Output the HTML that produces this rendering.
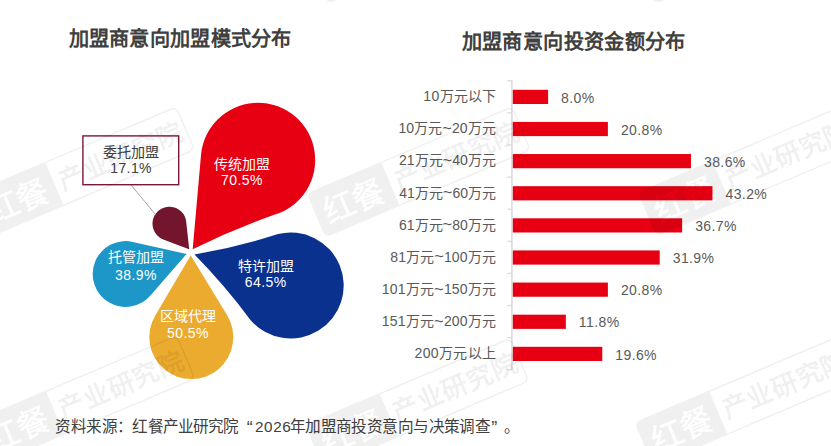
<!DOCTYPE html>
<html lang="zh-CN"><head><meta charset="utf-8"><title>chart</title>
<style>html,body{margin:0;padding:0;background:#fff;}body{width:831px;height:446px;overflow:hidden;font-family:"Liberation Sans", sans-serif;}svg{display:block;}text{font-family:"Liberation Sans", sans-serif;}</style>
</head><body>
<svg width="831" height="446" viewBox="0 0 831 446">
<rect width="831" height="446" fill="#fff"/>
<text x="68.63" y="46" font-size="20.2" font-weight="bold" fill="#404040" textLength="222.75" lengthAdjust="spacing">加盟商意向加盟模式分布</text>
<text x="461.63" y="48.5" font-size="20.2" font-weight="bold" fill="#404040" textLength="223.75" lengthAdjust="spacing">加盟商意向投资金额分布</text>
<path d="M192.70 249.20 Q196.86 202.08 201.02 154.97 A57.20 57.20 0 1 1 280.01 212.79 Q235.20 228.23 192.70 249.20Z" fill="#e60012"/>
<path d="M194.50 254.60 Q236.98 247.23 278.03 234.04 A53.00 53.00 0 1 1 250.43 319.96 Q224.75 285.33 194.50 254.60Z" fill="#0b318f"/>
<path d="M190.70 255.60 Q208.92 285.40 227.13 315.19 A42.00 42.00 0 1 1 155.15 315.72 Q172.92 285.66 190.70 255.60Z" fill="#eaab2e"/>
<path d="M186.60 253.90 Q168.52 274.73 150.45 295.56 A32.90 32.90 0 1 1 132.76 241.89 Q159.68 247.89 186.60 253.90Z" fill="#1d96c8"/>
<path d="M189.20 249.30 Q176.27 244.34 163.35 239.38 A16.90 16.90 0 1 1 186.20 221.77 Q187.70 235.53 189.20 249.30Z" fill="#72152d"/>
<text x="241.75" y="168.5" text-anchor="middle" font-size="14" fill="#fff">传统加盟</text>
<text x="241.95" y="185" text-anchor="middle" font-size="14" letter-spacing="0.4" fill="#fff">70.5%</text>
<text x="265.5" y="270.5" text-anchor="middle" font-size="14" fill="#fff">特许加盟</text>
<text x="265.7" y="287.4" text-anchor="middle" font-size="14" letter-spacing="0.4" fill="#fff">64.5%</text>
<text x="135.75" y="262" text-anchor="middle" font-size="14" fill="#fff">托管加盟</text>
<text x="135.95" y="280" text-anchor="middle" font-size="14" letter-spacing="0.4" fill="#fff">38.9%</text>
<text x="187.75" y="321" text-anchor="middle" font-size="14" fill="#fff">区域代理</text>
<text x="187.95" y="337.5" text-anchor="middle" font-size="14" letter-spacing="0.4" fill="#fff">50.5%</text>
<line x1="131" y1="185" x2="155.5" y2="214.5" stroke="#a6a6a6" stroke-width="1"/>
<rect x="82.9" y="135.9" width="95.8" height="48.8" fill="#fff" stroke="#7b1734" stroke-width="1.4"/>
<text x="130.9" y="156.5" text-anchor="middle" font-size="14" fill="#404040">委托加盟</text>
<text x="131.1" y="173.3" text-anchor="middle" font-size="14" letter-spacing="0.4" fill="#404040">17.1%</text>
<line x1="511.9" y1="80.3" x2="511.9" y2="370.20000000000005" stroke="#d9d9d9" stroke-width="1.5"/>
<line x1="507.3" y1="80.80" x2="511.9" y2="80.80" stroke="#d9d9d9" stroke-width="1.2"/>
<line x1="507.3" y1="112.90" x2="511.9" y2="112.90" stroke="#d9d9d9" stroke-width="1.2"/>
<line x1="507.3" y1="145.00" x2="511.9" y2="145.00" stroke="#d9d9d9" stroke-width="1.2"/>
<line x1="507.3" y1="177.10" x2="511.9" y2="177.10" stroke="#d9d9d9" stroke-width="1.2"/>
<line x1="507.3" y1="209.20" x2="511.9" y2="209.20" stroke="#d9d9d9" stroke-width="1.2"/>
<line x1="507.3" y1="241.30" x2="511.9" y2="241.30" stroke="#d9d9d9" stroke-width="1.2"/>
<line x1="507.3" y1="273.40" x2="511.9" y2="273.40" stroke="#d9d9d9" stroke-width="1.2"/>
<line x1="507.3" y1="305.50" x2="511.9" y2="305.50" stroke="#d9d9d9" stroke-width="1.2"/>
<line x1="507.3" y1="337.60" x2="511.9" y2="337.60" stroke="#d9d9d9" stroke-width="1.2"/>
<line x1="507.3" y1="369.70" x2="511.9" y2="369.70" stroke="#d9d9d9" stroke-width="1.2"/>
<rect x="512.8" y="89.80" width="35.30" height="14.2" fill="#e60012"/>
<text x="423.32" y="101.2" font-size="14" fill="#595959" textLength="73.07" lengthAdjust="spacing">10万元以下</text>
<text x="561.10" y="102.50" font-size="14" letter-spacing="0.4" fill="#595959">8.0%</text>
<rect x="512.8" y="121.92" width="95.08" height="14.2" fill="#e60012"/>
<text x="398.52" y="133.32" font-size="14" fill="#595959" textLength="97.11" lengthAdjust="spacing">10万元<tspan dy="0.6" font-size="16.5">~</tspan><tspan dy="-0.6">20万元</tspan></text>
<text x="620.88" y="134.62" font-size="14" letter-spacing="0.4" fill="#595959">20.8%</text>
<rect x="512.8" y="154.05" width="178.20" height="14.2" fill="#e60012"/>
<text x="398.99" y="165.45" font-size="14" fill="#595959" textLength="96.69" lengthAdjust="spacing">21万元<tspan dy="0.6" font-size="16.5">~</tspan><tspan dy="-0.6">40万元</tspan></text>
<text x="704.00" y="166.75" font-size="14" letter-spacing="0.4" fill="#595959">38.6%</text>
<rect x="512.8" y="186.18" width="199.68" height="14.2" fill="#e60012"/>
<text x="399.32" y="197.58" font-size="14" fill="#595959" textLength="96.71" lengthAdjust="spacing">41万元<tspan dy="0.6" font-size="16.5">~</tspan><tspan dy="-0.6">60万元</tspan></text>
<text x="725.48" y="198.88" font-size="14" letter-spacing="0.4" fill="#595959">43.2%</text>
<rect x="512.8" y="218.30" width="169.33" height="14.2" fill="#e60012"/>
<text x="398.95" y="229.7" font-size="14" fill="#595959" textLength="96.79" lengthAdjust="spacing">61万元<tspan dy="0.6" font-size="16.5">~</tspan><tspan dy="-0.6">80万元</tspan></text>
<text x="695.13" y="231.00" font-size="14" letter-spacing="0.4" fill="#595959">36.7%</text>
<rect x="512.8" y="250.43" width="146.91" height="14.2" fill="#e60012"/>
<text x="390.34" y="261.82" font-size="14" fill="#595959" textLength="105.34" lengthAdjust="spacing">81万元<tspan dy="0.6" font-size="16.5">~</tspan><tspan dy="-0.6">100万元</tspan></text>
<text x="672.71" y="263.12" font-size="14" letter-spacing="0.4" fill="#595959">31.9%</text>
<rect x="512.8" y="282.55" width="95.08" height="14.2" fill="#e60012"/>
<text x="381.72" y="293.95" font-size="14" fill="#595959" textLength="114.31" lengthAdjust="spacing">101万元<tspan dy="0.6" font-size="16.5">~</tspan><tspan dy="-0.6">150万元</tspan></text>
<text x="620.88" y="295.25" font-size="14" letter-spacing="0.4" fill="#595959">20.8%</text>
<rect x="512.8" y="314.68" width="53.05" height="14.2" fill="#e60012"/>
<text x="381.72" y="326.07" font-size="14" fill="#595959" textLength="114.31" lengthAdjust="spacing">151万元<tspan dy="0.6" font-size="16.5">~</tspan><tspan dy="-0.6">200万元</tspan></text>
<text x="578.85" y="327.38" font-size="14" letter-spacing="0.4" fill="#595959">11.8%</text>
<rect x="512.8" y="346.80" width="89.47" height="14.2" fill="#e60012"/>
<text x="414.49" y="358.2" font-size="14" fill="#595959" textLength="81.76" lengthAdjust="spacing">200万元以上</text>
<text x="615.27" y="359.50" font-size="14" letter-spacing="0.4" fill="#595959">19.6%</text>
<text x="55.17" y="432" font-size="15.6" fill="#404040" textLength="62.58" lengthAdjust="spacing">资料来源</text>
<text x="117.2" y="432" font-size="15.6" fill="#404040">：</text>
<text x="132.32" y="432" font-size="15.6" fill="#404040" textLength="107.08" lengthAdjust="spacing">红餐产业研究院</text>
<text x="246.74" y="433.5" font-size="18" fill="#404040" textLength="12.24" lengthAdjust="spacing">“</text>
<text x="255.04" y="432" font-size="15.3" fill="#404040" textLength="35.65" lengthAdjust="spacing">2026</text>
<text x="289.77" y="432" font-size="15.6" fill="#404040" textLength="201.12" lengthAdjust="spacing">年加盟商投资意向与决策调查</text>
<text x="491.28" y="433.5" font-size="18" fill="#404040" textLength="10.68" lengthAdjust="spacing">”</text>
<text x="503.8" y="432" font-size="15.6" fill="#404040">。</text>
<defs><mask id="wmm" maskUnits="userSpaceOnUse" x="-84" y="-2" width="88" height="55"><rect x="-84" y="-2" width="88" height="55" fill="#fff"/><text x="-40.5" y="37" text-anchor="middle" font-size="32" fill="#000" stroke="#000" stroke-width="0.5">红餐</text></mask></defs>
<g transform="translate(45.2 161.7) rotate(-23)"><path d="M-75 0H0V48H-75A6 6 0 0 1 -81 42V6A6 6 0 0 1 -75 0Z" fill="#000" fill-opacity="0.06" mask="url(#wmm)"/><path d="M0 0.75H136A6 6 0 0 1 142 6.75V41.25A6 6 0 0 1 136 47.25H0" fill="none" stroke="#000" stroke-opacity="0.06" stroke-width="1.5"/><text x="5" y="33.5" font-size="26" textLength="133" fill="#000" stroke="#000" opacity="0.06" stroke-width="0.7">产业研究院</text></g>
<g transform="translate(381.1 161.7) rotate(-23)"><path d="M-75 0H0V48H-75A6 6 0 0 1 -81 42V6A6 6 0 0 1 -75 0Z" fill="#000" fill-opacity="0.06" mask="url(#wmm)"/><path d="M0 0.75H136A6 6 0 0 1 142 6.75V41.25A6 6 0 0 1 136 47.25H0" fill="none" stroke="#000" stroke-opacity="0.06" stroke-width="1.5"/><text x="5" y="33.5" font-size="26" textLength="133" fill="#000" stroke="#000" opacity="0.06" stroke-width="0.7">产业研究院</text></g>
<g transform="translate(712.3 160.5) rotate(-23)"><path d="M-75 0H0V48H-75A6 6 0 0 1 -81 42V6A6 6 0 0 1 -75 0Z" fill="#000" fill-opacity="0.06" mask="url(#wmm)"/><path d="M0 0.75H136A6 6 0 0 1 142 6.75V41.25A6 6 0 0 1 136 47.25H0" fill="none" stroke="#000" stroke-opacity="0.06" stroke-width="1.5"/><text x="5" y="33.5" font-size="26" textLength="133" fill="#000" stroke="#000" opacity="0.06" stroke-width="0.7">产业研究院</text></g>
<g transform="translate(45.7 390.6) rotate(-23)"><path d="M-75 0H0V48H-75A6 6 0 0 1 -81 42V6A6 6 0 0 1 -75 0Z" fill="#000" fill-opacity="0.06" mask="url(#wmm)"/><path d="M0 0.75H136A6 6 0 0 1 142 6.75V41.25A6 6 0 0 1 136 47.25H0" fill="none" stroke="#000" stroke-opacity="0.06" stroke-width="1.5"/><text x="5" y="33.5" font-size="26" textLength="133" fill="#000" stroke="#000" opacity="0.06" stroke-width="0.7">产业研究院</text></g>
<g transform="translate(379.5 393.0) rotate(-23)"><path d="M-75 0H0V48H-75A6 6 0 0 1 -81 42V6A6 6 0 0 1 -75 0Z" fill="#000" fill-opacity="0.06" mask="url(#wmm)"/><path d="M0 0.75H136A6 6 0 0 1 142 6.75V41.25A6 6 0 0 1 136 47.25H0" fill="none" stroke="#000" stroke-opacity="0.06" stroke-width="1.5"/><text x="5" y="33.5" font-size="26" textLength="133" fill="#000" stroke="#000" opacity="0.06" stroke-width="0.7">产业研究院</text></g>
<g transform="translate(709 390.6) rotate(-23)"><path d="M-75 0H0V48H-75A6 6 0 0 1 -81 42V6A6 6 0 0 1 -75 0Z" fill="#000" fill-opacity="0.06" mask="url(#wmm)"/><path d="M0 0.75H136A6 6 0 0 1 142 6.75V41.25A6 6 0 0 1 136 47.25H0" fill="none" stroke="#000" stroke-opacity="0.06" stroke-width="1.5"/><text x="5" y="33.5" font-size="26" textLength="133" fill="#000" stroke="#000" opacity="0.06" stroke-width="0.7">产业研究院</text></g>
<g transform="translate(383.6 -71.8) rotate(-23)"><path d="M-75 0H0V48H-75A6 6 0 0 1 -81 42V6A6 6 0 0 1 -75 0Z" fill="#000" fill-opacity="0.06" mask="url(#wmm)"/><path d="M0 0.75H136A6 6 0 0 1 142 6.75V41.25A6 6 0 0 1 136 47.25H0" fill="none" stroke="#000" stroke-opacity="0.06" stroke-width="1.5"/><text x="5" y="33.5" font-size="26" textLength="133" fill="#000" stroke="#000" opacity="0.06" stroke-width="0.7">产业研究院</text></g>
<g transform="translate(710.6 -71.8) rotate(-23)"><path d="M-75 0H0V48H-75A6 6 0 0 1 -81 42V6A6 6 0 0 1 -75 0Z" fill="#000" fill-opacity="0.06" mask="url(#wmm)"/><path d="M0 0.75H136A6 6 0 0 1 142 6.75V41.25A6 6 0 0 1 136 47.25H0" fill="none" stroke="#000" stroke-opacity="0.06" stroke-width="1.5"/><text x="5" y="33.5" font-size="26" textLength="133" fill="#000" stroke="#000" opacity="0.06" stroke-width="0.7">产业研究院</text></g>
</svg></body></html>
